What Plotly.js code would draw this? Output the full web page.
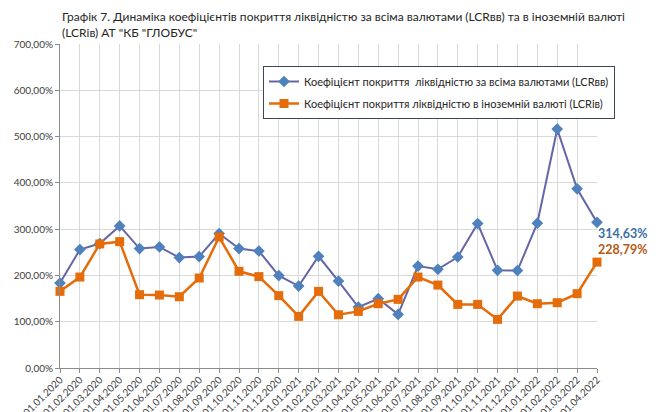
<!DOCTYPE html>
<html>
<head>
<meta charset="utf-8">
<script src="https://cdn.plot.ly/plotly-3.0.1.min.js"></script>
<style>html,body{margin:0;padding:0;background:#fff;}#chart{width:662px;height:412px;}</style>
</head>
<body>
<div id="chart"></div>
<script>
const categories = ["01.01.2020","01.02.2020","01.03.2020","01.04.2020","01.05.2020","01.06.2020","01.07.2020","01.08.2020","01.09.2020","01.10.2020","01.11.2020","01.12.2020","01.01.2021","01.02.2021","01.03.2021","01.04.2021","01.05.2021","01.06.2021","01.07.2021","01.08.2021","01.09.2021","01.10.2021","01.11.2021","01.12.2021","01.01.2022","01.02.2022","01.03.2022","01.04.2022"];
const lcrAll = [183.5,255.8,268.8,306.9,258.0,261.5,238.5,240.7,290.5,258.0,252.8,199.6,177.0,241.3,187.9,131.6,149.7,115.8,220.3,213.2,239.8,312.0,211.0,210.4,312.8,516.2,387.0,314.63];
const lcrFx = [165.6,196.5,268.0,273.0,158.4,157.6,154.0,194.4,283.0,208.9,197.4,156.3,111.5,165.6,115.1,122.3,138.9,148.3,196.5,179.2,137.4,137.4,105.0,155.4,138.9,141.1,160.6,228.79];
const seriesNames = ["Коефіцієнт покриття  ліквідністю за всіма валютами (LCRвв)","Коефіцієнт покриття ліквідністю в іноземній валюті (LCRів)"];
const titleText = "Графік 7. Динаміка коефіцієнтів покриття ліквідністю за всіма валютами (LCRвв) та в іноземній валюті<br>(LCRів) АТ \"КБ \"ГЛОБУС\"";
const yTicks = [0,100,200,300,400,500,600,700];

const font = "Lato, 'Open Sans', sans-serif";
const fmt = v => v.toFixed(2).replace('.', ',') + '%';
const last = categories.length - 1;

const traces = [
  {
    x: categories, y: lcrAll, name: seriesNames[0], type: 'scatter', mode: 'lines+markers',
    legendgroup: 'a',
    line: {color: '#6565a8', width: 2},
    marker: {symbol: 'diamond', size: 9, color: '#4f81bd'},
    cliponaxis: false
  },
  {
    x: categories, y: lcrFx, name: seriesNames[1], type: 'scatter', mode: 'lines+markers',
    legendgroup: 'b',
    line: {color: '#e46c0a', width: 2.5},
    marker: {symbol: 'square', size: 9, color: '#e46c0a'},
    cliponaxis: false
  }
];

const layout = {
  width: 662, height: 412,
  margin: {l: 60, r: 65, t: 44, b: 44},
  paper_bgcolor: '#fff', plot_bgcolor: '#fff',
  font: {family: font, size: 10, color: '#404040'},
  title: {
    text: titleText, x: 62/662, xanchor: 'left', xref: 'container',
    y: 1 - 21/412, yanchor: 'middle', yref: 'container',
    font: {family: font, size: 12, color: '#262626'}
  },
  showlegend: true,
  legend: {
    x: (263-60)/537, y: (368-66)/324, xanchor: 'left', yanchor: 'top',
    bgcolor: '#fff', bordercolor: '#3c4656', borderwidth: 1,
    font: {family: font, size: 11, color: '#262626'},
    traceorder: 'grouped', tracegroupgap: 3
  },
  annotations: [
    {x: categories[last], y: lcrAll[last], xref: 'x', yref: 'y', text: fmt(lcrAll[last]),
     showarrow: false, xanchor: 'left', yanchor: 'middle', xshift: -1, yshift: -11,
     font: {family: font, size: 12.5, color: '#3b6ea5', weight: 'bold'}},
    {x: categories[last], y: lcrFx[last], xref: 'x', yref: 'y', text: fmt(lcrFx[last]),
     showarrow: false, xanchor: 'left', yanchor: 'middle', xshift: -1, yshift: 13,
     font: {family: font, size: 12.5, color: '#b55a12', weight: 'bold'}}
  ],
  xaxis: {
    type: 'category', range: [0, last],
    tickangle: -45, tickfont: {family: font, size: 10, color: '#404040'},
    ticklabelstandoff: -3,
    showgrid: true, gridcolor: '#d9d9d9', gridwidth: 1,
    showline: true, linecolor: '#8c8c8c', linewidth: 1,
    ticks: 'outside', ticklen: 4, tickcolor: '#8c8c8c',
    zeroline: false, fixedrange: true
  },
  yaxis: {
    range: [0, 700], tickmode: 'array', tickvals: yTicks, ticktext: yTicks.map(fmt),
    tickfont: {family: font, size: 10, color: '#404040'},
    showgrid: true, gridcolor: '#d9d9d9', gridwidth: 1,
    showline: true, linecolor: '#8c8c8c', linewidth: 1,
    ticks: 'outside', ticklen: 4, tickcolor: '#8c8c8c',
    zeroline: false, fixedrange: true
  }
};

Plotly.newPlot('chart', traces, layout, {displayModeBar: false, staticPlot: true});
</script>
</body>
</html>
